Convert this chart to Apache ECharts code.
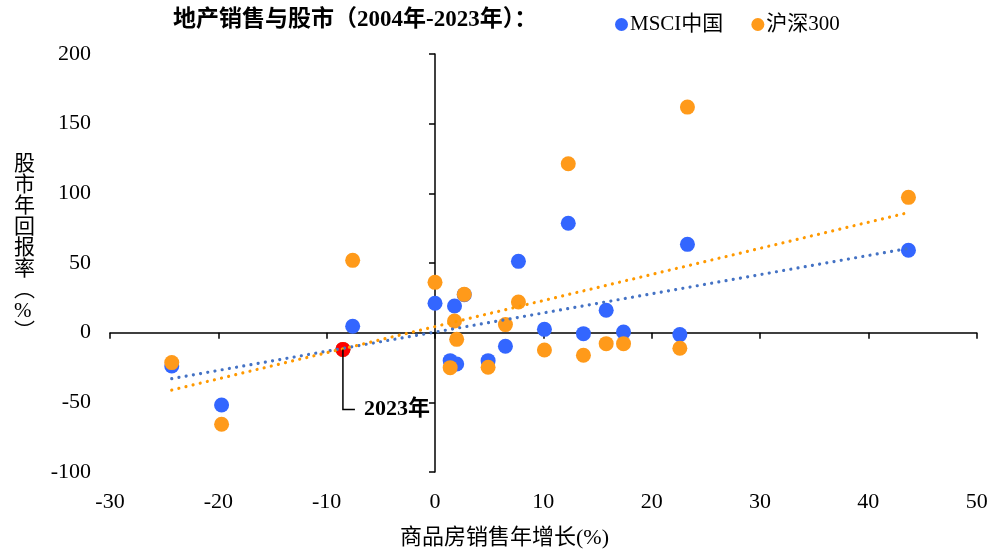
<!DOCTYPE html>
<html>
<head>
<meta charset="utf-8">
<script src="https://cdn.jsdelivr.net/npm/echarts@6/dist/echarts.min.js"></script>
<style>
html,body{margin:0;padding:0;background:#fff;}
#chart{width:1000px;height:552px;}
</style>
</head>
<body>
<div id="chart"></div>
<script>
// ---- data ----
const years = ['2004','2005','2006','2007','2008','2009','2010','2011','2012','2013','2014','2015','2016','2017','2018','2019','2020','2021','2022','2023'];
const salesGrowth = [13.7, 15.8, 12.3, 23.3, -19.7, 43.7, 10.1, 4.9, 1.8, 17.4, -7.6, 6.5, 22.6, 7.7, 1.4, 0.0, 2.7, 2.0, -24.3, -8.5];
const msciChina   = [-0.7, 16.1, 78.5, 63.4, -51.9, 59.1, 2.4, -20.1, 19.1, 0.5, 4.6, -9.8, -1.4, 51.2, -20.1, 21.1, 27.3, -22.5, -23.9, -12.0];
const csi300      = [-16.2, -7.9, 121.2, 161.9, -65.7, 97.1, -12.4, -24.8, 8.4, -7.9, 51.9, 5.8, -11.2, 22.0, -25.1, 36.1, 27.5, -4.8, -21.5, -12.0];
const seriesNames = ['MSCI中国', '沪深300'];
const titleText = '地产销售与股市（2004年-2023年）：';
const xName = '商品房销售年增长(%)';
const yName = '股市年回报率(%)';
const highlightLabel = '2023年';

const FONT = '"Liberation Serif", "Times New Roman", "Noto Sans CJK SC", serif';
const BLUE = '#3366FF', ORANGE = '#FF9A1A', RED = '#FF0000';
const BLUE_T = '#4472C4', ORANGE_T = '#FF9900';

function pairs(xs, ys){ return xs.map((x,i)=>[x, ys[i]]); }
function trend(xs, ys){
  const n = xs.length;
  const mx = xs.reduce((a,b)=>a+b,0)/n, my = ys.reduce((a,b)=>a+b,0)/n;
  let sxy=0, sxx=0;
  for(let i=0;i<n;i++){ sxy += (xs[i]-mx)*(ys[i]-my); sxx += (xs[i]-mx)*(xs[i]-mx); }
  const b = sxy/sxx, a = my - b*mx;
  const x0 = Math.min(...xs), x1 = Math.max(...xs);
  return [[x0, a+b*x0],[x1, a+b*x1]];
}
const last = years.length - 1;

const chart = echarts.init(document.getElementById('chart'), null, {renderer:'canvas'});
const axisLineStyle = {color:'#000', width:1.5};
const option = {
  backgroundColor:'#fff',
  animation:false,
  title:[
    {text:titleText, left:173, top:9, padding:0, textStyle:{fontFamily:FONT, fontSize:23, fontWeight:'bold', color:'#000'}},
    {text:xName, left:400, top:527, padding:0, textStyle:{fontFamily:FONT, fontSize:22, fontWeight:'normal', color:'#000'}},
    {text:yName.replace('(', '︵').replace(')', '︶').split('').join('\n'), left:14, top:154, padding:0,
     textStyle:{fontFamily:FONT, fontSize:21, fontWeight:'normal', color:'#000', lineHeight:21}}
  ],
  legend:{
    data:seriesNames, left:610, top:9, icon:'circle', itemWidth:13, itemHeight:13, itemGap:28,
    textStyle:{fontFamily:FONT, fontSize:21, color:'#000', padding:[0,0,0,-3]}
  },
  grid:{left:110, right:23.3, top:54, bottom:80, containLabel:false},
  xAxis:[
    {type:'value', min:-30, max:50, interval:10, position:'bottom',
     axisLine:{show:false, onZero:false}, axisTick:{show:false}, splitLine:{show:false},
     axisLabel:{fontFamily:FONT, fontSize:22, color:'#000', margin:19}},
    {type:'value', min:-30, max:50, interval:10, position:'bottom',
     axisLine:{show:true, onZero:true, onZeroAxisIndex:0, lineStyle:axisLineStyle},
     axisTick:{show:true, length:6, lineStyle:axisLineStyle}, axisLabel:{show:false}, splitLine:{show:false}}
  ],
  yAxis:[
    {type:'value', min:-100, max:200, interval:50, position:'left',
     axisLine:{show:false, onZero:false}, axisTick:{show:false}, splitLine:{show:false},
     axisLabel:{fontFamily:FONT, fontSize:22, color:'#000', margin:19}},
    {type:'value', min:-100, max:200, interval:50, position:'left',
     axisLine:{show:true, onZero:true, onZeroAxisIndex:0, lineStyle:axisLineStyle},
     axisTick:{show:true, length:6, lineStyle:axisLineStyle}, axisLabel:{show:false}, splitLine:{show:false}}
  ],
  series:[
    {name:seriesNames[0], type:'scatter', xAxisIndex:0, yAxisIndex:0, symbolSize:15, z:3,
     itemStyle:{color:BLUE, opacity:1}, data:pairs(salesGrowth, msciChina)},
    {name:seriesNames[1], type:'scatter', xAxisIndex:0, yAxisIndex:0, symbolSize:15, z:4,
     itemStyle:{color:ORANGE, opacity:1}, data:pairs(salesGrowth, csi300)},
    {name:highlightLabel, type:'scatter', xAxisIndex:0, yAxisIndex:0, symbolSize:15, z:5,
     itemStyle:{color:RED, opacity:1}, data:[[salesGrowth[last], msciChina[last]]]},
    {name:'trend1', type:'line', xAxisIndex:0, yAxisIndex:0, showSymbol:false, symbol:'none', z:6,
     lineStyle:{color:BLUE_T, width:3.2, type:[0.01, 7.3], cap:'round'}, data:trend(salesGrowth, msciChina)},
    {name:'trend2', type:'line', xAxisIndex:0, yAxisIndex:0, showSymbol:false, symbol:'none', z:6,
     lineStyle:{color:ORANGE_T, width:3.2, type:[0.01, 7.3], cap:'round'}, data:trend(salesGrowth, csi300)}
  ]
};
chart.setOption(option);

const p = chart.convertToPixel({seriesIndex:2}, [salesGrowth[last], msciChina[last]]);
chart.setOption({
  graphic:[
    {type:'polyline', z:10, shape:{points:[[p[0], p[1]], [p[0], p[1]+60], [p[0]+12, p[1]+60]]},
     style:{stroke:'#000', lineWidth:1.5, fill:null}},
    {type:'text', z:10, x:p[0]+21, y:p[1]+60,
     style:{text:highlightLabel, fontFamily:FONT, fontSize:22, fontWeight:'bold', fill:'#000', verticalAlign:'middle', align:'left'}}
  ]
});
</script>
</body>
</html>
